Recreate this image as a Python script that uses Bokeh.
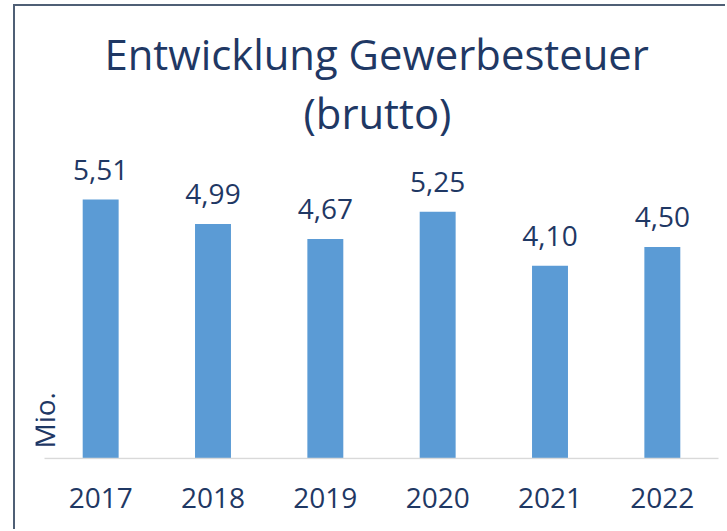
import math
from bokeh.plotting import figure
from bokeh.models import ColumnDataSource, FactorRange, Range1d, LabelSet, Title
from bokeh.core.properties import value
from bokeh.embed import file_html
from bokeh.resources import INLINE

years = ["2017", "2018", "2019", "2020", "2021", "2022"]
values = [5.51, 4.99, 4.67, 5.25, 4.10, 4.50]
value_labels = [f"{v:.2f}".replace(".", ",") for v in values]
title_lines = ["Entwicklung Gewerbesteuer", "(brutto)"]
y_axis_title = "Mio."

TEXT = "#1F3864"
BAR = "#5B9BD5"
BORDER = "#4F5F75"
FONT = "Open Sans"

src = ColumnDataSource(dict(x=years, top=values, lab=value_labels))

PX = 47.0  # pixels per unit on the y axis
p = figure(width=712, height=525, output_backend="svg", toolbar_location=None,
           x_range=FactorRange(*years, range_padding=0.0801, range_padding_units="absolute"),
           y_range=Range1d(-1 / PX, 318 / PX),
           y_axis_location=None, min_border_left=20, min_border_right=0,
           min_border_top=134, min_border_bottom=72)
p.margin = (4, 0, 0, 13)
p.styles = {"border-left": f"2px solid {BORDER}", "border-top": f"2px solid {BORDER}"}
p.title.visible = False
p.outline_line_color = None
p.xgrid.visible = False
p.ygrid.visible = False
p.background_fill_color = "white"
p.border_fill_color = "white"

p.vbar(x="x", top="top", width=0.32, source=src, fill_color=BAR, line_color=None)

# baseline from the left edge of the first category to the right edge of the last
p.segment(x0=[(years[0], -0.5)], y0=[0], x1=[(years[-1], 0.5)], y1=[0],
          line_color="#D9D9D9", line_width=1.3)

ax = p.xaxis[0]
ax.axis_line_color = None
ax.major_tick_line_color = None
ax.minor_tick_line_color = None
ax.major_label_text_font = FONT
ax.major_label_text_font_size = "28px"
ax.major_label_text_color = TEXT
ax.major_label_standoff = 22

labels = LabelSet(x="x", y="top", text="lab", source=src, y_offset=20,
                  text_align="center", text_baseline="alphabetic",
                  text_font=value(FONT), text_font_size=value("28px"), text_color=TEXT)
p.add_layout(labels)

mio_src = ColumnDataSource(dict(x=[(years[0], -0.5)], y=[0], t=[y_axis_title]))
p.add_layout(LabelSet(x="x", y="y", text="t", source=mio_src, x_offset=11, y_offset=10,
                      angle=math.pi / 2, text_align="left", text_baseline="alphabetic",
                      text_font=value(FONT), text_font_size=value("28px"), text_color=TEXT))

t2 = Title(text=title_lines[1], align="left", offset=268, standoff=0,
           text_font=FONT, text_font_size="41.8px", text_font_style="normal", text_color=TEXT)
t1 = Title(text=title_lines[0], align="left", offset=69, standoff=0,
           text_font=FONT, text_font_size="41.8px", text_font_style="normal", text_color=TEXT)
p.add_layout(t2, "above")
p.add_layout(t1, "above")

open("out.html", "w").write(file_html(p, INLINE))
